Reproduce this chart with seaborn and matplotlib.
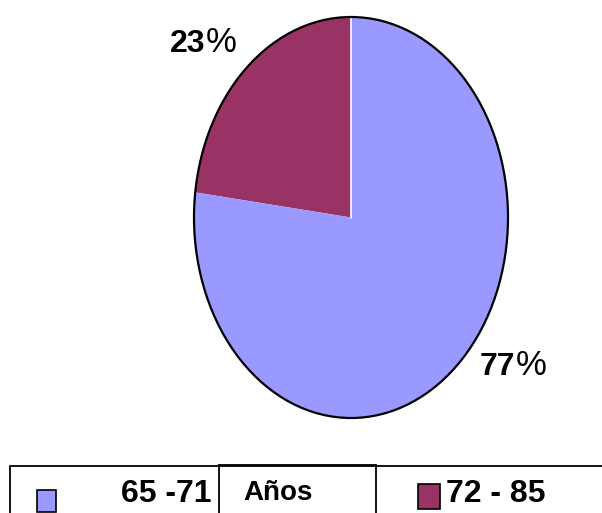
"""Pie chart: share of respondents by age group (65-71 vs 72-85 years)."""

import matplotlib

matplotlib.use("Agg")
import matplotlib.pyplot as plt
import seaborn as sns
from matplotlib.patches import Circle, Rectangle
from matplotlib.lines import Line2D

# data
groups = ["72 - 85", "65 -71"]
shares = [23, 77]
colors = ["#993366", "#9999FF"]
legend_title = "Años"

sns.set_theme(style="white")
plt.rcParams["font.family"] = ["Liberation Sans", "DejaVu Sans"]
plt.rcParams["text.color"] = "black"

fig = plt.figure(figsize=(6.02, 5.13), dpi=100)
W, H = 602, 513


def fx(px):
    return px / W


def fy(py):
    return 1 - py / H


ax = fig.add_axes([fx(194), fy(418), fx(508) - fx(194), (418 - 17) / H])
wedges, _ = ax.pie(
    shares,
    colors=colors,
    startangle=90,
    counterclock=True,
    radius=1,
    wedgeprops={"linewidth": 0},
)
ax.set_aspect("auto")
ax.set_xlim(-1, 1)
ax.set_ylim(-1, 1)
ax.axis("off")
for w in wedges:
    w.set_clip_on(False)
ax.add_patch(Circle((0, 0), 1, fill=False, ec="black", lw=1.6, zorder=5, clip_on=False))
ax.plot([0, 0], [0, 1], color="white", lw=1.2, zorder=4)


# percentage labels: bold number, regular percent sign
def pct_label(x_num, y_base, value):
    fig.text(fx(x_num), fy(y_base), f"{value}", fontsize=23, fontweight="bold",
             ha="right", va="baseline", color="black")
    fig.text(fx(x_num + 1), fy(y_base), "%", fontsize=25, ha="left",
             va="baseline", color="black")


pct_label(205, 52, shares[0])
pct_label(515, 375, shares[1])

# legend drawn as a boxed table
lw = 1.3
fig.add_artist(Line2D([fx(10), fx(602)], [fy(466), fy(466)], color="black", lw=lw))
fig.add_artist(Line2D([fx(10), fx(10)], [fy(466), fy(513)], color="black", lw=lw))
fig.add_artist(Line2D([fx(219), fx(376)], [fy(465), fy(465)], color="black", lw=lw))
fig.add_artist(Line2D([fx(219), fx(219)], [fy(465), fy(513)], color="black", lw=lw))
fig.add_artist(Line2D([fx(376), fx(376)], [fy(465), fy(513)], color="black", lw=lw))

fig.add_artist(Rectangle((fx(37), fy(512)), fx(56) - fx(37), (512 - 490) / H,
                         facecolor=colors[1], edgecolor="black", lw=1.2,
                         transform=fig.transFigure))
fig.add_artist(Rectangle((fx(418), fy(509)), fx(440) - fx(418), (509 - 484) / H,
                         facecolor=colors[0], edgecolor="black", lw=1.2,
                         transform=fig.transFigure))

fig.text(fx(212), fy(502), groups[1], fontsize=23, fontweight="bold",
         ha="right", va="baseline", color="black")
fig.text(fx(243), fy(500), legend_title, fontsize=20, fontweight="bold",
         ha="left", va="baseline", color="black")
fig.text(fx(446), fy(502), groups[0], fontsize=23, fontweight="bold",
         ha="left", va="baseline", color="black")

fig.savefig("out.png", dpi=100, facecolor="white")
